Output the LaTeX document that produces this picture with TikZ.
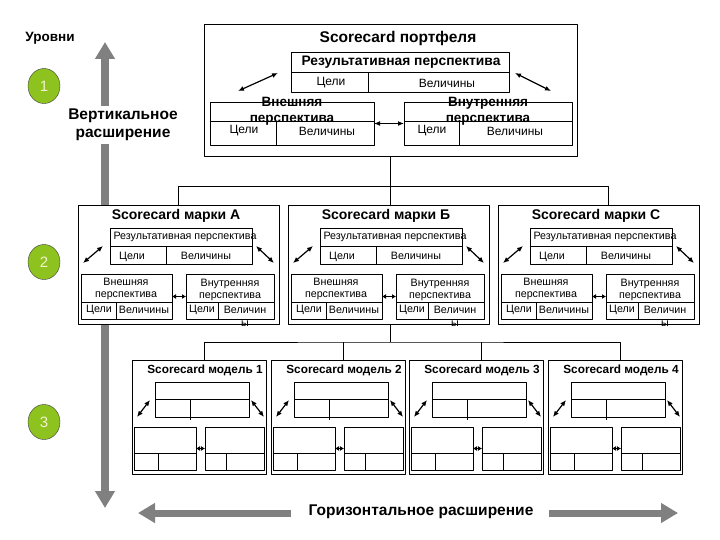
\documentclass[tikz,border=0pt]{standalone}
\usepackage{fontspec}
\setmainfont{Liberation Sans}
\usetikzlibrary{arrows.meta,shapes.geometric}
\definecolor{lvlgreen}{RGB}{141,194,31}
\definecolor{lvlnum}{RGB}{242,242,205}
\definecolor{arrgray}{RGB}{128,128,128}
\tikzset{
  frame/.style={draw,fill=white,inner sep=0pt,outer sep=0pt,anchor=north west},
  lvl/.style={ellipse,draw=black!75,fill=lvlgreen,text=lvlnum,minimum width=32pt,minimum height=35pt,inner sep=0pt,font=\fontsize{15}{15}\selectfont},
  grayarr/.style={arrgray,line width=8pt,-{Triangle[width=19pt,length=17pt]}},
  dbl/.style={{Latex[length=6pt,width=5pt]}-{Latex[length=6pt,width=5pt]},line width=1.2pt},
  dblsm/.style={{Latex[length=4pt,width=5pt]}-{Latex[length=4pt,width=5pt]},line width=1.2pt},
  fhead/.style={font=\fontsize{15.5}{18}\selectfont\bfseries,align=center},
  ftop/.style={font=\fontsize{13.5}{16}\selectfont\bfseries,align=center},
  frow/.style={font=\fontsize{12}{13}\selectfont},
  fbr/.style={font=\fontsize{14}{15}\selectfont\bfseries},
  fsm/.style={font=\fontsize{10.7}{12.5}\selectfont,align=center},
  fmod/.style={font=\fontsize{11.8}{13}\selectfont\bfseries}
}
\begin{document}
\begin{tikzpicture}[x=1pt,y=-1pt,line join=round]
\fill[white] (0,0) rectangle (720,540);
\useasboundingbox (0,0) rectangle (720,540);
% levels and vertical extension
\node[ftop] (lvls) at (50,38) {Уровни};
\coordinate (vtop) at (105,42);
\coordinate (vbot) at (105,508);
\node[fhead] (vt) at (123,125) {Вертикальное\\расширение};
\draw[grayarr] (vt.north -| vtop) -- (vtop);
\draw[grayarr] (vt.south -| vtop) -- (vbot);
\node[lvl] (l1) at (44,86) {1};
\node[lvl] (l2) at (44,262) {2};
\node[lvl] (l3) at (44,422) {3};
% portfolio scorecard
\node[frame,minimum width=373pt,minimum height=132pt] (pf) at (204,24) {};
\node[fhead] (pft) at (398,38) {Scorecard портфеля};
\node[frame,minimum width=218pt,minimum height=40pt] (pres) at (291,52) {};
\draw (291,72) -- (509,72) (368,72) -- (368,92);
\node[ftop,font=\fontsize{13.8}{16}\selectfont\bfseries] (prest) at (401,62) {Результативная перспектива};
\node[frow] (presg) at (331,83) {Цели};
\node[frow] (presv) at (447,83) {Величины};
\node[frame,minimum width=164pt,minimum height=43pt] (pext) at (210,102) {};
\draw (210,121) -- (374,121) (276,121) -- (276,145);
\node[ftop] (pextt) at (292,111) {Внешняя\\перспектива};
\node[frow] (pextg) at (244,131) {Цели};
\node[frow] (pextv) at (327,131) {Величины};
\node[frame,minimum width=168pt,minimum height=43pt] (pint) at (404,102) {};
\draw (404,121) -- (572,121) (459,121) -- (459,145);
\node[ftop] (pintt) at (488,111) {Внутренняя\\перспектива};
\node[frow] (pintg) at (432,131) {Цели};
\node[frow] (pintv) at (515,131) {Величины};
\draw[dbl] ([shift={(28,-11)}]pext.north west) -- ([shift={(-13,-19)}]pres.south west);
\draw[dbl] ([shift={(6,-19)}]pres.south east) -- ([shift={(-21,-11)}]pint.north east);
\draw[dbl] (pext.east) -- (pint.west);
\coordinate (mbus) at (389,342);
\draw (pf.south) -- (pf.south |- mbus);
% brand scorecards
\foreach \bx/\bn/\bl in {78/A/А,288/B/Б,498/C/C}{
  \begin{scope}[shift={(\bx,205)}]
    \node[frame,minimum width=201pt,minimum height=119pt] (br\bn) at (0,0) {};
    \node[fbr] (brt\bn) at (98,11) {Scorecard марки \bl};
    \node[frame,minimum width=142pt,minimum height=36pt] (bres\bn) at (32,23) {};
    \draw (32,41) -- (174,41) (88,41) -- (88,59);
    \node[fsm] (brest\bn) at (107,32) {Результативная перспектива};
    \node[fsm] (bresg\bn) at (54,52) {Цели};
    \node[fsm] (bresv\bn) at (128,51) {Величины};
    \node[frame,minimum width=91pt,minimum height=45pt] (bext\bn) at (3,69) {};
    \draw (3,97) -- (94,97) (38,97) -- (38,114);
    \node[fsm] (bextt\bn) at (48,84) {Внешняя\\перспектива};
    \node[fsm] (bextg\bn) at (21,105) {Цели};
    \node[fsm] (bextv\bn) at (66,105) {Величины};
    \node[frame,minimum width=88pt,minimum height=45pt] (bint\bn) at (108,69) {};
    \draw (108,97) -- (196,97) (140,97) -- (140,114);
    \node[fsm] (bintt\bn) at (152,85) {Внутренняя\\перспектива};
    \node[fsm] (bintg\bn) at (124,105) {Цели};
    \node[fsm,anchor=north] (bintv\bn) at (167,98) {Величин\\ы};
    \draw[dbl] ([shift={(2,-11)}]bext\bn.north west) -- ([shift={(-7,-18)}]bres\bn.south west);
    \draw[dbl] ([shift={(4,-18)}]bres\bn.south east) -- ([shift={(0,-11)}]bint\bn.north east);
    \draw[dblsm] (bext\bn.east) -- (bint\bn.west);
  \end{scope}
}
\draw (brA.north) -- (brA.north |- 0,186) -| ([xshift=10pt]brC.north);
% model scorecards
\foreach \mx/\mn in {132/1,271/2,409/3,548/4}{
  \begin{scope}[shift={(\mx,360)}]
    \node[frame,minimum width=134pt,minimum height=114pt] (m\mn) at (0,0) {};
    \node[fmod] (mt\mn) at (73,10) {Scorecard модель \mn};
    \node[frame,minimum width=94pt,minimum height=35pt] (mres\mn) at (23,22) {};
    \draw (23,39) -- (117,39) (58,39) -- (58,60);
    \node[frame,minimum width=62pt,minimum height=43pt] (mext\mn) at (2,67) {};
    \draw (2,93) -- (64,93) (26,93) -- (26,110);
    \node[frame,minimum width=59pt,minimum height=43pt] (mint\mn) at (73,67) {};
    \draw (73,93) -- (132,93) (94,93) -- (94,110);
    \draw[dbl] ([shift={(3,-10)}]mext\mn.north west) -- ([shift={(-5,-17)}]mres\mn.south west);
    \draw[dbl] ([shift={(2,-17)}]mres\mn.south east) -- ([shift={(0,-10)}]mint\mn.north east);
    \draw[dblsm] (mext\mn.east) -- (mint\mn.west);
  \end{scope}
}
\draw ([xshift=5pt]m1.north) |- (mbus) -| ([xshift=5pt]m4.north);
\foreach \k in {2,3} \draw ([xshift=5pt]m\k.north) -- ([xshift=5pt]m\k.north |- mbus);
% horizontal extension
\node[fhead] (hz) at (421,512) {Горизонтальное расширение};
\coordinate (hleft) at (138,513);
\coordinate (hright) at (678,513);
\draw[grayarr,line width=7pt] ([xshift=-14pt]hz.west |- hleft) -- (hleft);
\draw[grayarr,line width=7pt] ([xshift=12pt]hz.east |- hright) -- (hright);
\end{tikzpicture}
\end{document}
